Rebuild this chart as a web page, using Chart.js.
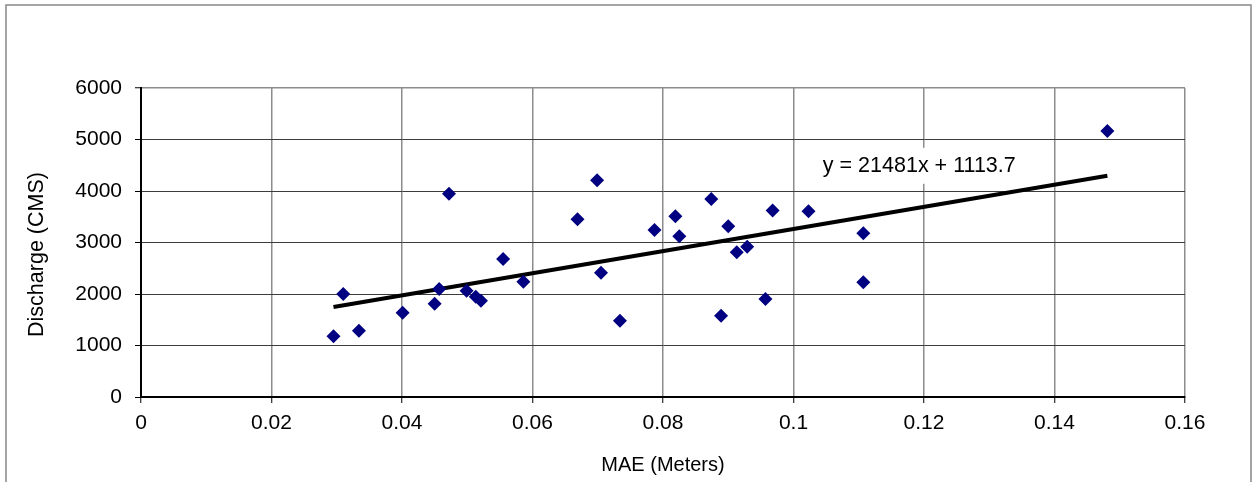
<!DOCTYPE html>
<html>
<head>
<meta charset="utf-8">
<script src="https://cdn.jsdelivr.net/npm/chart.js@4"></script>
<style>
  body { margin: 0; background: #fff; }
  canvas { display: block; }
</style>
</head>
<body>
<canvas id="myChart" width="1254" height="482"></canvas>
<script>
const mae = [0.0295, 0.0310, 0.0334, 0.0401, 0.0450, 0.0457, 0.0472, 0.0499, 0.0513, 0.0521,
  0.0555, 0.0586, 0.0669, 0.0699, 0.0705, 0.0734, 0.0787, 0.0819, 0.0825, 0.0874,
  0.0889, 0.0900, 0.0913, 0.0929, 0.0957, 0.0968, 0.1023, 0.1107, 0.1107, 0.1481];
const discharge = [1181, 1998, 1284, 1634, 1809, 2095, 3949, 2062, 1946, 1868,
  2679, 2237, 3451, 4210, 2412, 1479, 3243, 3510, 3121, 3846,
  1576, 3315, 2809, 2918, 1901, 3619, 3607, 3179, 2226, 5163];

const xTicks = [0, 0.02, 0.04, 0.06, 0.08, 0.1, 0.12, 0.14, 0.16];
const yTicks = [0, 1000, 2000, 3000, 4000, 5000, 6000];

// trendline as printed on the chart
const trendSlope = 21481;
const trendIntercept = 1113.7;
const equationText = 'y = 21481x + 1113.7';
const equationAt = { x: 0.1045, y: 4490 };

const xTitle = 'MAE (Meters)';
const yTitle = 'Discharge (CMS)';

const fontFamily = "'Liberation Sans', Arial, sans-serif";

const points = mae.map((x, i) => ({ x: x, y: discharge[i] }));
const xMin = Math.min(...mae);
const xMax = Math.max(...mae);
const trend = [xMin, xMax].map(x => ({ x: x, y: trendSlope * x + trendIntercept }));

const extras = {
  id: 'extras',
  afterDraw(chart) {
    const ctx = chart.ctx;
    const area = chart.chartArea;
    ctx.save();

    // outer chart frame
    ctx.strokeStyle = '#888';
    ctx.lineWidth = 1.5;
    ctx.beginPath();
    ctx.moveTo(6, chart.height);
    ctx.lineTo(6, 5);
    ctx.lineTo(1251, 5);
    ctx.lineTo(1251, chart.height);
    ctx.stroke();

    // y axis title
    ctx.fillStyle = '#000';
    ctx.font = '21.5px ' + fontFamily;
    ctx.textAlign = 'center';
    ctx.textBaseline = 'middle';
    ctx.translate(37, (area.top + area.bottom) / 2 + 12);
    ctx.rotate(-Math.PI / 2);
    ctx.fillText(yTitle, 0, 0);
    ctx.restore();

    // trendline equation on a white box
    ctx.save();
    const ex = chart.scales.x.getPixelForValue(equationAt.x);
    const ey = chart.scales.y.getPixelForValue(equationAt.y);
    ctx.font = '21.5px ' + fontFamily;
    const w = ctx.measureText(equationText).width;
    ctx.fillStyle = '#fff';
    ctx.fillRect(ex - 6, ey - 18, w + 12, 36);
    ctx.fillStyle = '#000';
    ctx.textAlign = 'left';
    ctx.textBaseline = 'middle';
    ctx.fillText(equationText, ex, ey);
    ctx.restore();
  }
};

const ctx = document.getElementById('myChart').getContext('2d');
const chart = new Chart(ctx, {
  type: 'scatter',
  data: {
    datasets: [{
      label: 'Discharge',
      data: points,
      pointStyle: 'rectRot',
      pointRadius: 7,
      pointBackgroundColor: '#000080',
      pointBorderColor: '#000080',
      pointBorderWidth: 0
    }, {
      label: 'Linear trend',
      type: 'line',
      data: trend,
      showLine: true,
      borderColor: '#000',
      borderWidth: 4,
      pointRadius: 0,
      fill: false
    }]
  },
  options: {
    responsive: false,
    animation: false,
    devicePixelRatio: 1,
    layout: {
      padding: { top: 88, right: 69, left: 0, bottom: 0 }
    },
    plugins: {
      legend: { display: false },
      tooltip: { enabled: false }
    },
    scales: {
      x: {
        type: 'linear',
        min: 0,
        max: 0.16,
        afterBuildTicks: (scale) => {
          scale.ticks = xTicks.map(v => ({ value: v }));
        },
        afterFit: (scale) => {
          scale.height = 85;
        },
        ticks: {
          color: '#000',
          padding: 8,
          maxRotation: 0,
          font: { family: fontFamily, size: 21 },
          callback: (v) => String(v)
        },
        grid: {
          color: '#8c8c8c',
          lineWidth: 1.5,
          tickColor: '#000',
          tickLength: 6,
          tickWidth: 1
        },
        border: { color: '#000', width: 2 },
        title: {
          display: true,
          text: xTitle,
          color: '#000',
          font: { family: fontFamily, size: 20 },
          padding: { top: 0, bottom: 5 }
        }
      },
      y: {
        min: 0,
        max: 6000,
        afterBuildTicks: (scale) => {
          scale.ticks = yTicks.map(v => ({ value: v }));
        },
        afterFit: (scale) => {
          scale.width = 141;
        },
        ticks: {
          color: '#000',
          padding: 13,
          font: { family: fontFamily, size: 21 },
          callback: (v) => String(v)
        },
        grid: {
          color: (c) => (c.tick && c.tick.value === 6000) ? '#8c8c8c' : '#3c3c3c',
          lineWidth: (c) => (c.tick && c.tick.value === 6000) ? 1.5 : 1,
          tickColor: '#000',
          tickLength: 6,
          tickWidth: 1
        },
        border: { color: '#000', width: 2 }
      }
    }
  },
  plugins: [extras]
});
</script>
</body>
</html>
